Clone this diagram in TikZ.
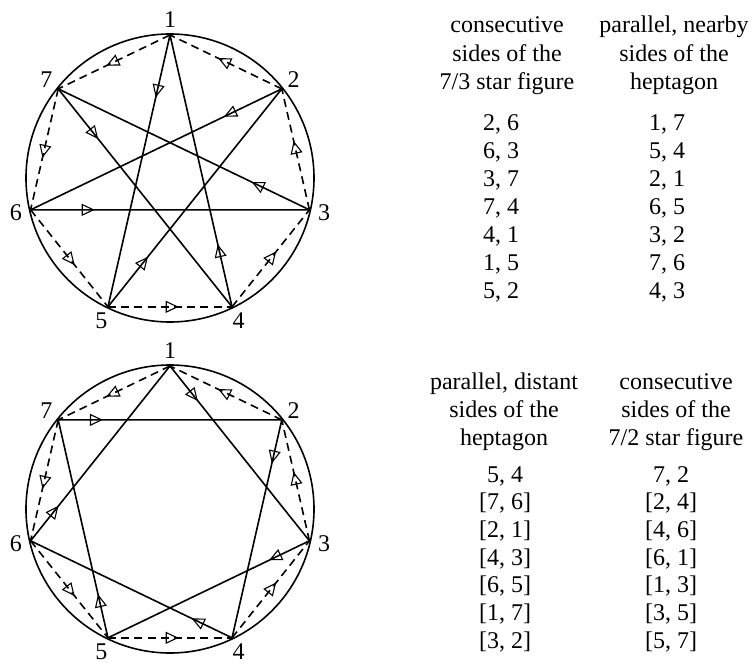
\documentclass[tikz,border=0pt]{standalone}
\usepackage{fontspec}
\setmainfont{Liberation Serif}
\usetikzlibrary{arrows.meta}
\usetikzlibrary{decorations.markings}

\begin{document}
\begin{tikzpicture}[
            x=.5pt, y=.5pt,
            rim/.style={line width=.8pt},
            chord/.style={line width=.8pt},
            hepside/.style={line width=.8pt, dash pattern=on 4pt off 2.6pt},
            midtip/.style={postaction={decorate, solid, decoration={markings,
                mark=at position #1 with {\arrow[line width=.55pt]{Triangle[open, length=6.5pt, width=6pt]}}}}},
            vlbl/.style={font=\fontsize{12}{14}\selectfont, inner sep=0pt},
            lbl/.style={font=\fontsize{12}{14}\selectfont, anchor=base, inner sep=0pt},
        ]
            \useasboundingbox (0, 0) rectangle (754, 666);

            %% upper circle: the 7/3 star and the heptagon
            \begin{scope}[shift={(170, 488)}]
                \draw[rim] (0, 0) circle (144);
                \foreach \k in {1,...,7}{
                    \coordinate (t\k) at ({90-(\k-1)*360/7}:143);
                    \node[vlbl] (tn\k) at ({90-(\k-1)*360/7}:158) {\k};
                }
            \end{scope}
            \foreach \i in {1,...,7}{
                \pgfmathtruncatemacro{\j}{mod(\i+3,7)+1}
                \pgfmathtruncatemacro{\h}{mod(\i+5,7)+1}
                \draw[chord, midtip=.23] (t\i) -- (t\j);
                \draw[hepside, midtip=.57] (t\i) -- (t\h);
            }

            %% lower circle: the 7/2 star and the heptagon
            \begin{scope}[shift={(170, 157)}]
                \draw[rim] (0, 0) circle (144);
                \foreach \k in {1,...,7}{
                    \coordinate (b\k) at ({90-(\k-1)*360/7}:143);
                    \node[vlbl] (bn\k) at ({90-(\k-1)*360/7}:158) {\k};
                }
            \end{scope}
            \foreach \i in {1,...,7}{
                \pgfmathtruncatemacro{\j}{mod(\i+1,7)+1}
                \pgfmathtruncatemacro{\h}{mod(\i+5,7)+1}
                \draw[chord, midtip=.2] (b\i) -- (b\j);
                \draw[hepside, midtip=.57] (b\i) -- (b\h);
            }

            %% upper table
            \foreach \a/\b [count=\n] in {consecutive/{parallel, nearby},
                    sides of the/sides of the, {7/3 star figure}/heptagon}{
                \node[lbl] (ha\n) at (507, {633-28*(\n-1)}) {\a};
                \node[lbl] (hb\n) at (674, {633-28*(\n-1)}) {\b};
            }
            \foreach \a/\b [count=\n] in {{2, 6}/{1, 7}, {6, 3}/{5, 4},
                    {3, 7}/{2, 1}, {7, 4}/{6, 5}, {4, 1}/{3, 2},
                    {1, 5}/{7, 6}, {5, 2}/{4, 3}}{
                \node[lbl] (ra\n) at (501, {536-28*(\n-1)}) {\a};
                \node[lbl] (rb\n) at (667, {536-28*(\n-1)}) {\b};
            }

            %% lower table
            \foreach \a/\b [count=\n] in {{parallel, distant}/consecutive,
                    sides of the/sides of the, heptagon/{7/2 star figure}}{
                \node[lbl] (hc\n) at (504, {277-28*(\n-1)}) {\a};
                \node[lbl] (hd\n) at (676, {277-28*(\n-1)}) {\b};
            }
            \foreach \a/\b [count=\n] in {{5, 4}/{7, 2}, {[7, 6]}/{[2, 4]},
                    {[2, 1]}/{[4, 6]}, {[4, 3]}/{[6, 1]}, {[6, 5]}/{[1, 3]},
                    {[1, 7]}/{[3, 5]}, {[3, 2]}/{[5, 7]}}{
                \node[lbl] (rc\n) at (505, {184-27.7*(\n-1)}) {\a};
                \node[lbl] (rd\n) at (671, {184-27.7*(\n-1)}) {\b};
            }
        \end{tikzpicture}
\end{document}
